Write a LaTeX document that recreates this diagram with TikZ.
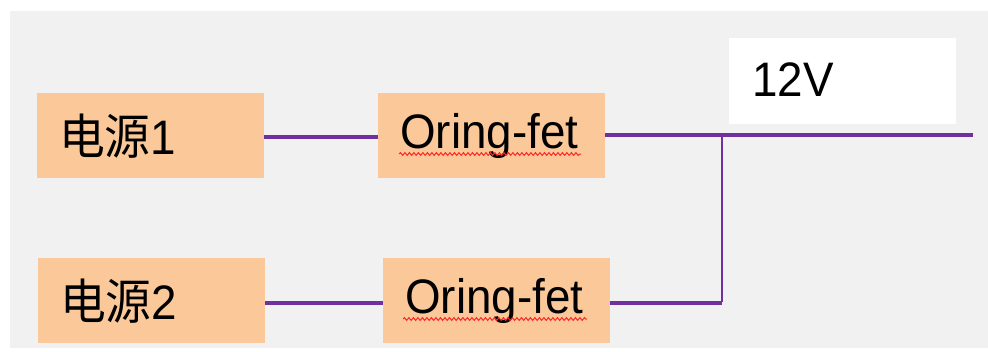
\documentclass[tikz,border=0pt]{standalone}
\usepackage{fontspec}
\setmainfont{Liberation Sans}
\newfontfamily\cjk{Noto Sans CJK SC}
\usetikzlibrary{decorations.pathmorphing}
\definecolor{peach}{HTML}{FBC999}
\definecolor{bg}{HTML}{F1F1F1}
\definecolor{wire}{HTML}{7030A0}
\newcommand{\tallt}[1]{\scalebox{1.04}[1.1]{#1}}
\tikzset{
  blockbox/.style={fill=peach, draw=none, anchor=north west, minimum width=227pt, minimum height=85pt,
    inner xsep=22pt, text width=183pt, align=left, font=\fontsize{44}{48}\selectfont},
  labelbox/.style={fill=white, draw=none, anchor=north west, minimum width=227pt, minimum height=86pt,
    inner xsep=23pt, text width=181pt, align=left, font=\fontsize{44}{48}\selectfont},
  wireline/.style={draw=wire, line width=3.2pt},
  wirev/.style={draw=wire, line width=2.4pt},
  squiggle/.style={draw=red!85, line width=1pt, decorate, decoration={snake, amplitude=1.4pt, segment length=4.5pt}}
}
\begin{document}
\begin{tikzpicture}[x=1pt,y=-1pt]
\useasboundingbox[fill=white] (0,0) rectangle (988,351);
\fill[bg] (10,11) rectangle (988,348);
\node[blockbox] (p1) at (37,93) {\tallt{{\cjk 电源}1}};
\node[blockbox] (f1) at (378,93) {\tallt{Oring-fet}};
\node[blockbox] (p2) at (38,258) {\tallt{{\cjk 电源}2}};
\node[blockbox] (f2) at (383,258) {\tallt{Oring-fet}};
\node[labelbox] (v) at (729,38) {\raisebox{4pt}{\tallt{12V}}};
\coordinate (j) at (722,135);
\coordinate (jb) at (722,303);
\coordinate (out) at (973,135);
\draw[wireline] (p1.east |- 0,137) -- (f1.west |- 0,137);
\draw[wireline] (f1.east |- j) -- (out);
\draw[wireline] (p2.east |- jb) -- (f2.west |- jb);
\draw[wireline] (f2.east |- jb) -- (jb);
\draw[wirev] (j) -- ([yshift=1pt]jb);
\draw[squiggle] (399,154) -- (581,154);
\draw[squiggle] (403,319) -- (587,319);
\end{tikzpicture}
\end{document}
